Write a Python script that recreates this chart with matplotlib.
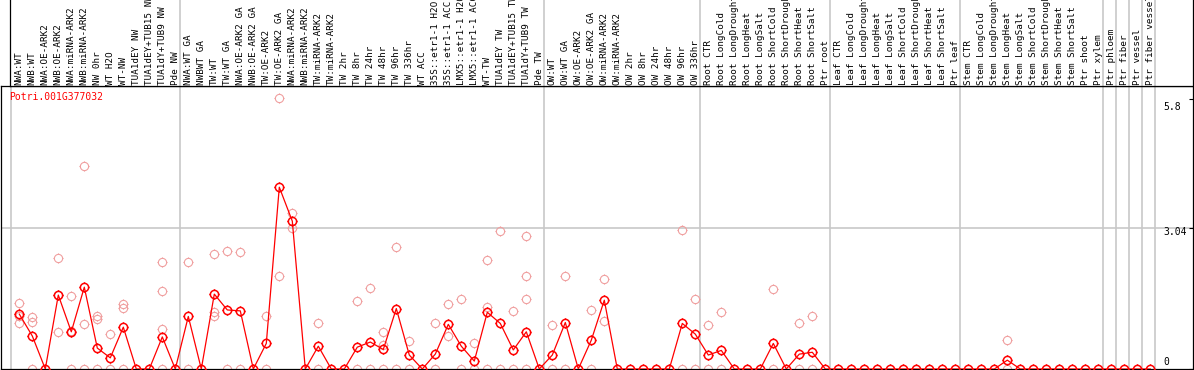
import numpy as np
import matplotlib
matplotlib.use("Agg")
from matplotlib import pyplot as plt
from matplotlib.path import Path

gene = "Potri.001G377032"

labels = [
    "NWA:WT", "NWB:WT", "NWA:OE-ARK2", "NWB:OE-ARK2", "NWA:miRNA-ARK2", "NWB:miRNA-ARK2",
    "NW 0hr", "WT H2O", "WT-NW", "TUA1dEY NW", "TUA1dEY+TUB15 NW", "TUA1dY+TUB9 NW", "Pde NW",
    "NWA:WT GA", "NWBWT GA", "TW:WT", "TW:WT GA", "NWA:OE-ARK2 GA", "NWB:OE-ARK2 GA",
    "TW:OE-ARK2", "TW:OE-ARK2 GA", "NWA:miRNA-ARK2", "NWB:miRNA-ARK2", "TW:miRNA-ARK2",
    "TW:miRNA-ARK2", "TW 2hr", "TW 8hr", "TW 24hr", "TW 48hr", "TW 96hr", "TW 336hr", "WT ACC",
    "35S::etr1-1 H2O", "35S::etr1-1 ACC", "LMX5::etr1-1 H2O", "LMX5::etr1-1 ACC", "WT-TW",
    "TUA1dEY TW", "TUA1dEY+TUB15 TW", "TUA1dY+TUB9 TW", "Pde TW",
    "OW:WT", "OW:WT GA", "OW:OE-ARK2", "OW:OE-ARK2 GA", "OW:miRNA-ARK2", "OW:miRNA-ARK2",
    "OW 2hr", "OW 8hr", "OW 24hr", "OW 48hr", "OW 96hr", "OW 336hr",
    "Root CTR", "Root LongCold", "Root LongDrought", "Root LongHeat", "Root LongSalt",
    "Root ShortCold", "Root ShortDrought", "Root ShortHeat", "Root ShortSalt", "Ptr root",
    "Leaf CTR", "Leaf LongCold", "Leaf LongDrought", "Leaf LongHeat", "Leaf LongSalt",
    "Leaf ShortCold", "Leaf ShortDrought", "Leaf ShortHeat", "Leaf ShortSalt", "Ptr leaf",
    "Stem CTR", "Stem LongCold", "Stem LongDrought", "Stem LongHeat", "Stem LongSalt",
    "Stem ShortCold", "Stem ShortDrought", "Stem ShortHeat", "Stem ShortSalt", "Ptr shoot",
    "Ptr xylem", "Ptr phloem", "Ptr fiber", "Ptr vessel", "Ptr fiber vessel",
]

means = [
    1.18, 0.71, 0, 1.59, 0.80, 1.76, 0.45, 0.24, 0.90, 0, 0, 0.69, 0,
    1.13, 0, 1.61, 1.27, 1.25, 0, 0.55, 3.91, 3.18, 0, 0.49, 0, 0, 0.47, 0.58,
    0.42, 1.30, 0.30, 0, 0.32, 0.96, 0.49, 0.17, 1.22, 0.98, 0.41, 0.80, 0,
    0.30, 1.00, 0, 0.62, 1.48, 0, 0, 0, 0, 0, 0.98, 0.75,
    0.30, 0.40, 0, 0, 0, 0.55, 0, 0.32, 0.36, 0,
    0, 0, 0, 0, 0, 0, 0, 0, 0, 0,
    0, 0, 0, 0.19, 0, 0, 0, 0, 0, 0, 0,
    0, 0, 0, 0,
]

# replicate values per sample (only the non-empty ones)
replicates = {
    0: [1.42, 1.15, 0.98], 1: [1.11, 1.02, 0], 3: [2.38, 1.60, 0.79], 4: [1.58, 0.82, 0],
    5: [4.36, 0.96, 0], 6: [1.15, 1.07, 0], 7: [0.75, 0], 8: [1.40, 1.31, 0],
    11: [2.30, 1.68, 0.87, 0], 13: [2.30, 0], 15: [2.47, 1.23, 1.13], 16: [2.54, 0],
    17: [2.52, 0], 19: [1.13, 0], 20: [5.83, 1.99], 21: [3.35, 3.03], 23: [1.00, 0],
    26: [1.46, 0], 27: [1.74, 0], 28: [0.79, 0.52, 0], 29: [2.62, 0], 30: [0.60, 0],
    32: [0.98, 0], 33: [1.39, 0.71], 34: [1.50, 0], 35: [0.55, 0], 36: [2.34, 1.33, 0],
    37: [2.96, 0], 38: [1.25, 0], 39: [2.85, 1.99, 1.50, 0], 41: [0.94, 0],
    42: [2.01, 0], 44: [1.27, 0], 45: [1.93, 1.03], 51: [2.98, 0], 52: [1.50, 0],
    53: [0.94, 0], 54: [1.22, 0], 58: [1.71, 0], 60: [0.98, 0], 61: [1.13, 0],
    76: [0.62, 0],
}

group_starts = [0, 13, 41, 53, 63, 73, 84, 85, 86, 87, 88]
yticks = [5.8, 3.04, 0]

W, H = 1194, 370
px = 13.0      # pixels per sample
x0 = 19.3      # pixel x of the first sample
ppu = 46.5     # pixels per unit
top, bottom = 86, 369

def xdat(p):
    return (p - x0) / px

fig = plt.figure(figsize=(W / 100, H / 100), dpi=100)
ax = fig.add_axes([1 / W, (H - bottom) / H, (1193 - 1) / W, (bottom - top) / H])
hax = fig.add_axes([10 / W, (H - top) / H, (1193 - 10) / W, top / H])

xmax = xdat(1193)
ax.set_xlim(xdat(1), xmax)
ax.set_ylim(0, (bottom - top) / ppu)
hax.set_xlim(xdat(10), xmax)
hax.set_ylim(0, 1)

grey = "#c8c8c8"
for a in (ax, hax):
    for s in a.spines.values():
        s.set_linewidth(0.9)
        s.set_color("black")
    a.set_xticks([])
hax.spines["top"].set_visible(False)
hax.set_yticks([])

for g in group_starts:
    ax.axvline(g - 8 / px, color=grey, lw=1.2, zorder=0)
    if g > 0:
        hax.axvline(g - 8 / px, color=grey, lw=1.2, zorder=0)
ax.axhline(3.04, color=grey, lw=1.2, zorder=0)

# round marker with tiny nubs on four sides
t = np.linspace(0, 2 * np.pi, 41)
cverts = np.column_stack([np.cos(t), np.sin(t)])
ccodes = [Path.MOVETO] + [Path.LINETO] * 40
nub = 1.22
tverts = [[0, 1], [0, nub], [0, -1], [0, -nub], [1, 0], [nub, 0], [-1, 0], [-nub, 0]]
tcodes = [Path.MOVETO, Path.LINETO] * 4
mk = Path(np.vstack([cverts, tverts]), ccodes + tcodes)

xs = np.arange(len(means))
rx, ry = [], []
for i, vals in replicates.items():
    for v in vals:
        rx.append(i)
        ry.append(v)
ax.plot(rx, ry, ls="none", marker=mk, ms=7.2, mfc="none", mec="#f0a0a0", mew=0.8, zorder=2)
ax.plot(xs, means, color="#ff0000", lw=0.9, zorder=3)
ax.plot(xs, means, ls="none", marker=mk, ms=7.2, mfc="none", mec="#ff0000", mew=1.1, zorder=4)

mono = "DejaVu Sans Mono"
for i, lab in enumerate(labels):
    hax.text(i, 1.2 / top, lab, rotation=90, ha="center", va="bottom", fontsize=6.7,
             family=mono, color="black")

ax.text(xdat(9.5), (bottom - 96.5) / ppu, gene, color="#ff0000", fontsize=7, family=mono,
        va="center", ha="left")

# right side scale labels
ax.set_yticks(yticks)
ax.tick_params(axis="y", left=False, labelleft=False, right=True, direction="in", length=3, width=0.8)
offs = {5.8: -8, 3.04: -4.5, 0: 7}
for v in yticks:
    ax.annotate(f"{v:g}", (xdat(1163), v), xytext=(0, offs[v] * 0.72), textcoords="offset points",
                fontsize=7, family=mono, va="center", ha="left")

fig.savefig("out.png", dpi=100)
